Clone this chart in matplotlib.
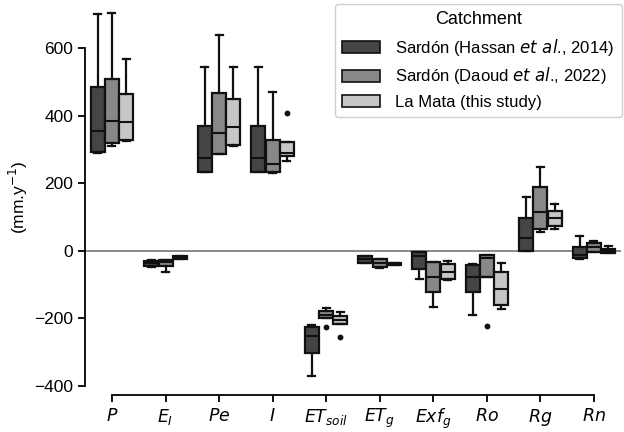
"""Water balance components boxplot: Sardón (two studies) vs La Mata."""
import matplotlib
matplotlib.use("Agg")
import matplotlib.pyplot as plt
import numpy as np
from matplotlib.patches import Patch

# components (x axis)
labels = ['$P$', '$E_I$', '$Pe$', '$I$', '$ET_{soil}$', '$ET_g$', '$Exf_g$', '$Ro$', '$Rg$', '$Rn$']

# box stats per catchment, one value per component: whisker low, q1, median, q3, whisker high
hassan_lo  = [289, -47, 232, 232, -373, -36, -85, -191, 0, -25]
hassan_q1  = [293, -45, 232, 232, -302, -36, -54, -123, 0, -23]
hassan_med = [355, -38, 274, 274, -253, -25, -16, -77, 37, -13]
hassan_q3  = [486, -30, 370, 370, -227, -16, -5, -42, 96, 12]
hassan_hi  = [701, -28, 544, 544, -220, -16, -3, -39, 158, 44]
hassan_fl  = [[], [], [], [], [], [], [], [], [], []]

daoud_lo  = [310, -64, 286, 230, -200, -50, -168, -78, 56, -4]
daoud_q1  = [318, -45, 286, 232, -200, -49, -123, -77, 63, -3]
daoud_med = [385, -35, 348, 257, -191, -37, -79, -23, 116, 10]
daoud_q3  = [510, -29, 467, 328, -178, -26, -34, -14, 190, 22]
daoud_hi  = [704, -27, 640, 470, -171, -24, -33, -12, 247, 29]
daoud_fl  = [[], [], [], [], [-227], [], [], [-223], [], []]

mata_lo  = [325, -25, 310, 265, -217, -43, -86, -174, 64, -8]
mata_q1  = [328, -25, 312, 280, -217, -43, -84, -161, 73, -8]
mata_med = [380, -20, 366, 290, -205, -40, -64, -115, 96, -2]
mata_q3  = [465, -15, 449, 322, -194, -36, -39, -62, 119, 4]
mata_hi  = [569, -15, 544, 322, -183, -36, -31, -36, 137, 14]
mata_fl  = [[], [], [], [409], [-257], [], [], [], [], []]

catchments = ['Sardón (Hassan $\\mathit{et\\ al}$., 2014)',
              'Sardón (Daoud $\\mathit{et\\ al}$., 2022)',
              'La Mata (this study)']
colors = ['#454545', '#888888', '#c6c6c6']
EDGE = '#111111'

series = [
    (hassan_lo, hassan_q1, hassan_med, hassan_q3, hassan_hi, hassan_fl),
    (daoud_lo, daoud_q1, daoud_med, daoud_q3, daoud_hi, daoud_fl),
    (mata_lo, mata_q1, mata_med, mata_q3, mata_hi, mata_fl),
]

plt.rcParams.update({'font.family': ['Liberation Sans', 'DejaVu Sans'], 'font.size': 12,
                     'mathtext.fontset': 'dejavusans'})
fig = plt.figure(figsize=(6.24, 4.32), dpi=100)
ax = fig.add_axes([0.1365, 0.1035, 0.8583, 0.8785])

x = np.arange(len(labels))
w = 0.8 / 3
ax.axhline(0, color='#808080', linewidth=1.3, zorder=1)

for k, (lo, q1, med, q3, hi, fl) in enumerate(series):
    stats = [dict(whislo=lo[i], q1=q1[i], med=med[i], q3=q3[i], whishi=hi[i], fliers=fl[i])
             for i in range(len(labels))]
    ax.bxp(stats, positions=x + (k - 1) * w, widths=w * 0.98, patch_artist=True,
           showfliers=True, manage_ticks=False,
           boxprops=dict(facecolor=colors[k], edgecolor=EDGE, linewidth=1.6),
           medianprops=dict(color=EDGE, linewidth=1.5),
           whiskerprops=dict(color=EDGE, linewidth=1.6),
           capprops=dict(color=EDGE, linewidth=1.6),
           flierprops=dict(marker='o', markersize=3.2, markerfacecolor=EDGE,
                           markeredgecolor=EDGE))

ax.set_xlim(-0.5, 9.5)
ax.set_ylim(-405, 720)
ax.set_xticks(x)
ax.set_xticklabels(labels, fontsize=12.5)
ax.set_yticks([-400, -200, 0, 200, 400, 600])
ax.tick_params(axis='both', length=5, width=1.3, labelsize=12.5)
ax.tick_params(axis='x', labelsize=12.5, pad=4)
ax.set_ylabel('(mm.y$^{-1}$)', fontsize=12.5, labelpad=3)

for s in ('top', 'right'):
    ax.spines[s].set_visible(False)
ax.spines['bottom'].set_position(('outward', 5.3))
ax.spines['bottom'].set_bounds(0, 9)
ax.spines['left'].set_bounds(-400, 600)
for s in ('bottom', 'left'):
    ax.spines[s].set_linewidth(1.3)

handles = [Patch(facecolor=c, edgecolor=EDGE, linewidth=1.2) for c in colors]
leg = ax.legend(handles, catchments, title='Catchment', loc='upper right',
                bbox_to_anchor=(622 / 624, 1 - 4 / 432), bbox_transform=fig.transFigure,
                borderaxespad=0, fontsize=12, title_fontsize=13, handlelength=2.3,
                handleheight=0.72, handletextpad=0.9, labelspacing=0.48, borderpad=0.45,
                framealpha=1, edgecolor='#d0d0d0')

plt.savefig('out.png', dpi=100)
print('saved out.png')
